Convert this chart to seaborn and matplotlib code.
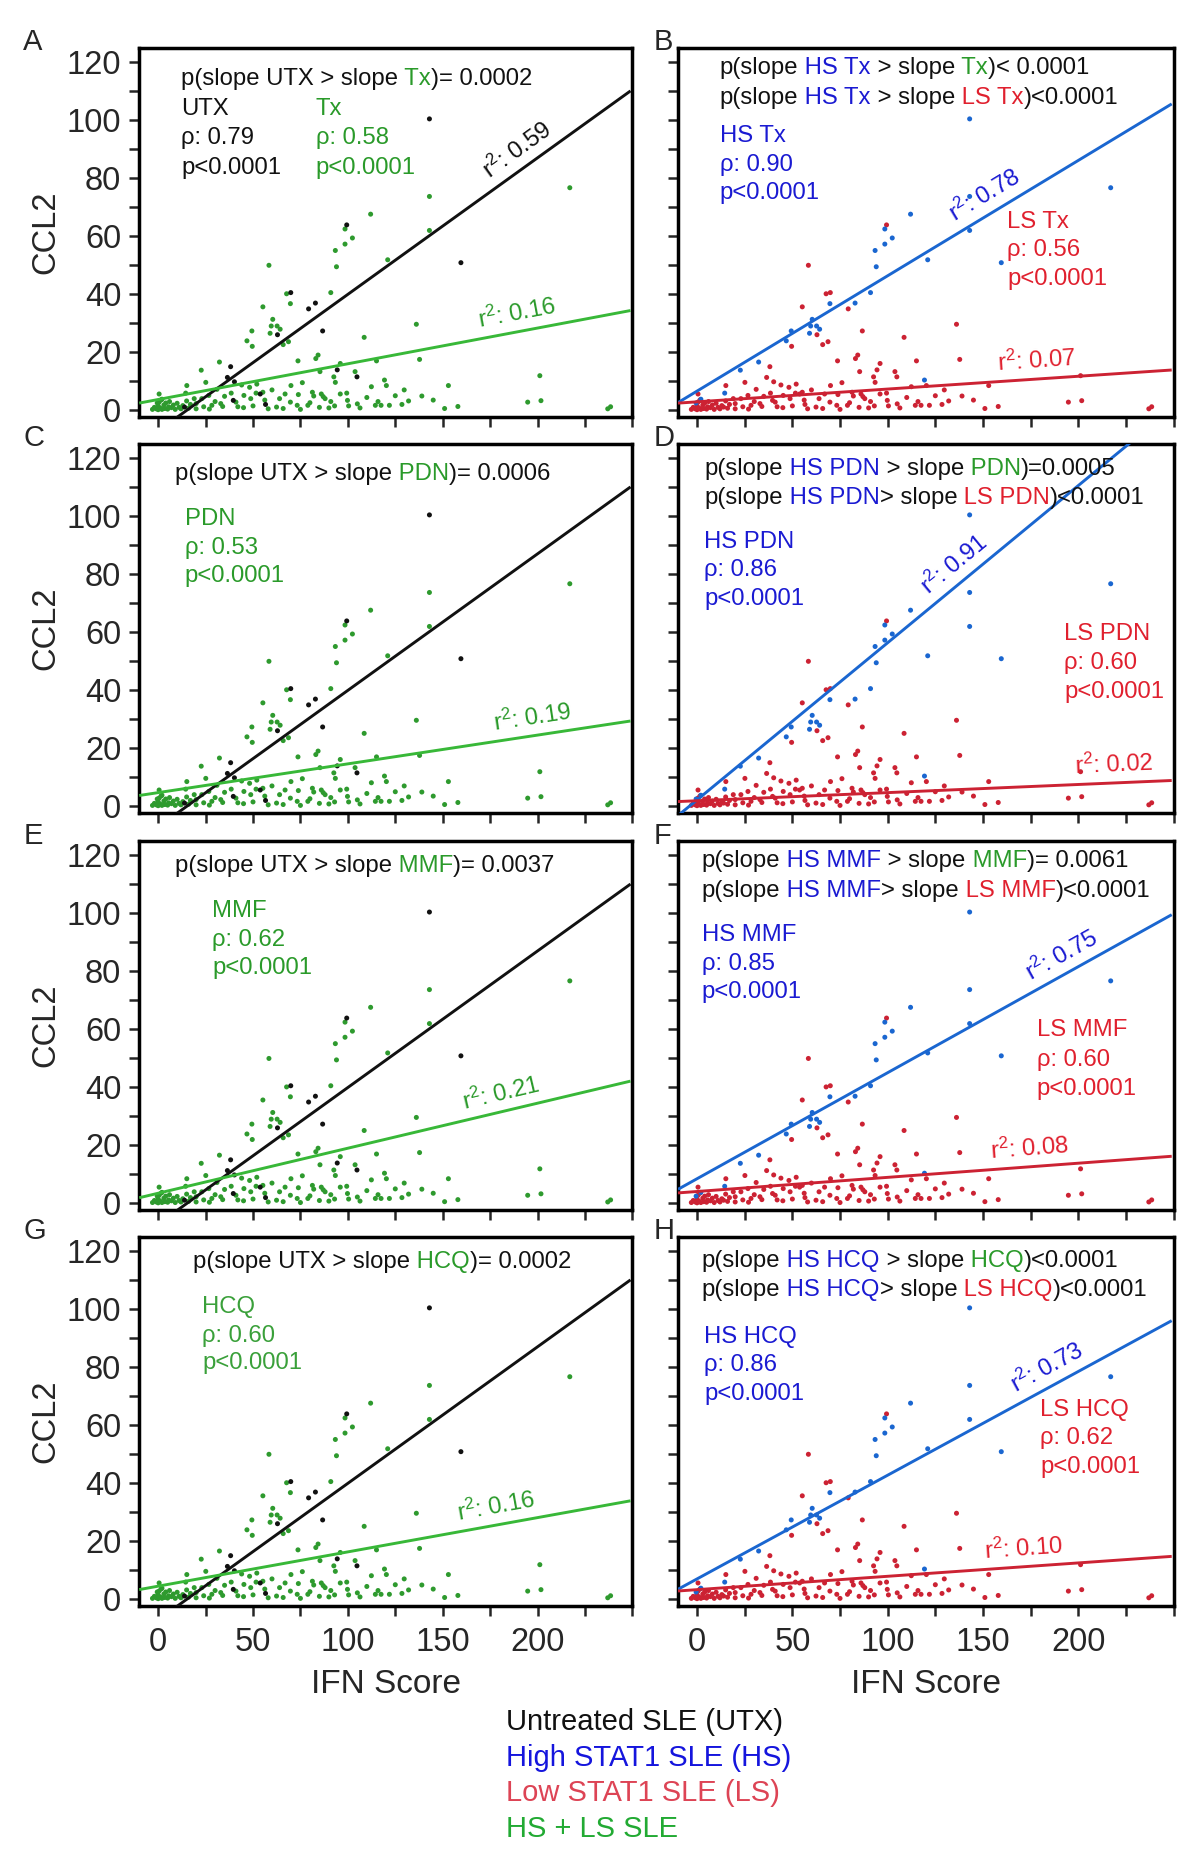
import numpy as np
import pandas as pd
import matplotlib
matplotlib.use("Agg")
import matplotlib.pyplot as plt
import seaborn as sns
from matplotlib.offsetbox import TextArea, HPacker, AnchoredOffsetbox

# ---- patients: IFN score vs CCL2 (same cohort shown in every panel) ----
ifn_score = [143, 217, 143, 143, 112, 99.4, 98.5, 102.4, 98.5, 93.4, 94.0, 121, 159.6, 58.4,
             91.0, 69.9, 67.7, 82.9, 79.3, 69.7, 55.2, 86.7, 62.9, 60.4, 59.6, 62.7, 64.3, 59.0,
             49.4, 46.8, 49.6, 65.9, 68.7, 108.6, 136.1, 137.8, 115.1, 73.7, 83.1, 84.3, 96.0,
             85.3, 32.3, 22.7, 25.1, 15.1, 92.6, 93.4, 103.8, 153.0, 201.2, 112.4, 119.3, 120.3,
             129.7, 139.0, 194.8, 201.8, 151.0, 237, 238.5, 38.2, 36.5, 40.2, 39.6, 94.4, 104.8,
             53.8, 56.6, 13.9, 14.5, 2, -0.5, 0.5, 19, 20, 23, 26.7, 28.3, 30, 33, 34, 38.5, 41,
             42, 45.2, 48.2, 48.8, 51.6, 55.2, 56.2, 62.4, 65.9, 66.9, 69.7, 73.3, 73.9, 78.9,
             81.3, 82.0, 86, 87, 88, 90, 93, 96, 99.4, 99.8, 100.4, 106.4, 114.5, 115.9, 117.5,
             121.9, 128.5, -3, -2, -1, 0, 0, 0.5, 1, 1.5, 2, 3, 3.5, 4, 5, 5.5, 6, 7, 8, 9, 10,
             11, 12, 13, 15, 16, 17, 31, 35, 44, 52, 60, 64, 70, 76, 80, 91, 110, 125, 132, 145,
             158, 20, 24, 27, 45, 50, 58, 75, 85, 105]
ccl2 = [100.3, 76.6, 73.6, 61.9, 67.5, 63.8, 62.4, 59.3, 57.2, 55.0, 49.4, 51.8, 50.8, 49.9,
        40.5, 40.5, 40.1, 36.9, 34.9, 36.7, 35.6, 27.3, 26.0, 31.3, 29.0, 29.0, 27.9, 26.5,
        27.3, 23.9, 22.0, 22.6, 23.6, 25.1, 29.6, 17.5, 17.0, 17.0, 17.8, 19.0, 16.1, 13.3,
        16.6, 13.8, 9.6, 8.5, 11.5, 9.6, 13.3, 8.5, 11.9, 8.1, 10.4, 8.5, 7.0, 4.9, 2.8, 3.3,
        0.6, 0.5, 1.2, 15.0, 11.3, 9.8, 3.4, 13.9, 11.5, 5.6, 2.0, 1.1, 5.9, 3.8, 2.5, 5.6,
        4.0, 2.3, 4.0, 5.1, 1.7, 3.0, 2.3, 1.3, 5.9, 2.8, 1.2, 5.1, 7.9, 4.0, 5.9, 6.2, 3.5,
        1.1, 0.6, 5.6, 2.8, 1.7, 5.4, 1.7, 6.2, 4.9, 5.6, 4.7, 4.0, 0.8, 1.5, 5.6, 5.9, 3.4,
        1.5, 0.8, 1.7, 3.0, 1.7, 1.7, 2.0, 0.3, 1.0, 0.5, 0.2, 1.5, 2.8, 0.8, 3.5, 0.3, 1.8,
        0.6, 2.5, 0.4, 1.2, 3.0, 0.9, 1.8, 0.3, 2.4, 1.0, 0.5, 1.6, 3.2, 0.7, 2.0, 7.2, 4.8,
        8.7, 9.0, 7.0, 4.0, 8.5, 9.5, 2.6, 3.0, 4.4, 5.0, 3.2, 3.5, 1.3, 0.5, 1.2, 0.4, 0.9,
        1.5, 0.5, 0.3, 1.0, 2.2]
# untreated patients (UTX); all others treated (Tx)
utx_index = [0, 5, 12, 15, 17, 18, 21, 22, 61, 62, 63, 64, 65, 66, 67, 68, 69]
# high STAT1 patients (HS); all others low STAT1 (LS)
hs_index = [0, 1, 2, 3, 4, 6, 7, 8, 9, 10, 11, 12, 14, 17, 19, 23, 24, 25, 26, 27, 28, 29,
            42, 43, 52, 70, 71, 72]

# ---- regression fits: (slope, intercept) ----
utx_fit = (0.470, -7.1)
tx_fits = [(0.123, 3.7), (0.099, 4.7), (0.155, 3.5), (0.118, 4.5)]
hs_fits = [(0.397, 6.6), (0.541, 2.2), (0.365, 8.5), (0.357, 7.0)]
ls_fits = [(0.044, 2.9), (0.028, 1.9), (0.0487, 4.1), (0.046, 3.3)]

tx_r2 = ["0.16", "0.19", "0.21", "0.16"]
hs_r2 = ["0.78", "0.91", "0.75", "0.73"]
ls_r2 = ["0.07", "0.02", "0.08", "0.10"]
tx_r2_at = [191, 199, 183, 180]
hs_r2_at = [156, 141, 196, 188]
ls_r2_at = [179, 219, 175, 172]

drugs = ["Tx", "PDN", "MMF", "HCQ"]
p_utx_vs_drug = ["= 0.0002", "= 0.0006", "= 0.0037", "= 0.0002"]
p_hs_vs_drug = ["< 0.0001", "=0.0005", "= 0.0061", "<0.0001"]
p_hs_vs_ls = ["<0.0001", "<0.0001", "<0.0001", "<0.0001"]
tx_rho = ["0.58", "0.53", "0.62", "0.60"]
hs_rho = ["0.90", "0.86", "0.85", "0.86"]
ls_rho = ["0.56", "0.60", "0.60", "0.62"]
panel_letters = ["A", "B", "C", "D", "E", "F", "G", "H"]

legend_labels = ["Untreated SLE (UTX)", "High STAT1 SLE (HS)", "Low STAT1 SLE (LS)", "HS + LS SLE"]

# ---- style ----
BLACK = "#111111"
GREEN_PT = "#2e9a2e"
GREEN_LN = "#38b838"
GREEN_TX = "#2a9a2a"
BLUE_PT = "#1a66d0"
BLUE_TX = "#1a1ad2"
RED_PT = "#cc2233"
RED_TX = "#e0202e"

sns.set_style("ticks")
plt.rcParams["font.family"] = ["Liberation Sans", "DejaVu Sans"]
plt.rcParams["mathtext.fontset"] = "custom"
plt.rcParams["mathtext.rm"] = "Liberation Sans"
plt.rcParams["mathtext.default"] = "regular"

n = len(ifn_score)
df = pd.DataFrame({"ifn_score": ifn_score, "ccl2": ccl2})
df["treatment"] = ["UTX" if i in utx_index else "Tx" for i in range(n)]
df["stat1"] = ["HS" if i in hs_index else "LS" for i in range(n)]

XLIM = (-10, 249)
YLIM = (-2.3, 124.7)
TXT = 17.2

fig = plt.figure(figsize=(12, 18.68), dpi=100)
lefts = [0.116, 0.565]
widths = [0.411, 0.413]
bottoms = [0.7768, 0.5648, 0.3522, 0.1403]
height = 0.1975


def colored_line(ax, parts, x, y, size=TXT):
    boxes = [TextArea(s, textprops=dict(color=c, size=size)) for s, c in parts]
    pack = HPacker(children=boxes, align="baseline", pad=0, sep=0)
    ab = AnchoredOffsetbox(loc="center left", child=pack, pad=0, borderpad=0, frameon=False,
                           bbox_to_anchor=(x, y), bbox_transform=ax.transAxes)
    ax.add_artist(ab)


def text_block(ax, lines, color, x, ys, size=TXT):
    for s, y in zip(lines, ys):
        ax.text(x, y, s, color=color, size=size, transform=ax.transAxes, ha="left", va="center")


def fit_line(ax, fit, color, lw=2.1):
    xs = np.array(XLIM)
    ax.plot(xs, fit[0] * xs + fit[1], color=color, lw=lw, zorder=3, solid_capstyle="butt")


def r2_label(ax, fit, xc, value, color):
    yc = fit[0] * xc + fit[1]
    ang = ax.transData.transform_angles(np.array([np.degrees(np.arctan(fit[0]))]),
                                        np.array([[xc, yc]]))[0]
    th = np.radians(ang)
    ax.annotate("r$^{2}$: " + value, xy=(xc, yc), xytext=(-4 * np.sin(th), 4 * np.cos(th)),
                textcoords="offset points", rotation=ang, rotation_mode="anchor",
                ha="center", va="bottom", color=color, size=TXT, zorder=4)


def style_axes(ax, row, col):
    ax.set_xlim(*XLIM)
    ax.set_ylim(*YLIM)
    ax.set_xticks(np.arange(0, 201, 50))
    ax.set_xticks(np.arange(0, 251, 25), minor=True)
    ax.set_yticks(np.arange(0, 121, 20))
    ax.set_yticks(np.arange(0, 121, 10), minor=True)
    ax.tick_params(which="both", direction="out", length=7, width=1.8, labelsize=23.5, pad=6)
    ax.tick_params(axis="x", which="both", pad=8)
    for sp in ax.spines.values():
        sp.set_visible(True)
        sp.set_linewidth(2.5)
        sp.set_color("black")
    ax.set_xlabel("")
    ax.set_ylabel("")
    if col == 0:
        ax.set_ylabel("CCL2", fontsize=23.5, labelpad=4)
    else:
        ax.tick_params(axis="y", labelleft=False)
    if row == 3:
        ax.set_xlabel("IFN Score", fontsize=24, labelpad=8)
    else:
        ax.tick_params(axis="x", labelbottom=False)


left_df = pd.concat([df[df.treatment == "Tx"], df[df.treatment == "UTX"]])
right_df = pd.concat([df[df.stat1 == "LS"], df[df.stat1 == "HS"]])

for row in range(4):
    drug = drugs[row]
    # ---------- left column: UTX vs treated ----------
    ax = fig.add_axes([lefts[0], bottoms[row], widths[0], height])
    sns.scatterplot(data=left_df, x="ifn_score", y="ccl2", hue="treatment",
                    palette={"UTX": BLACK, "Tx": GREEN_PT}, s=13, linewidth=0,
                    legend=False, ax=ax, zorder=2)
    style_axes(ax, row, 0)
    fit_line(ax, utx_fit, BLACK)
    fit_line(ax, tx_fits[row], GREEN_LN)
    r2_label(ax, tx_fits[row], tx_r2_at[row], tx_r2[row], GREEN_TX)
    if row == 0:
        colored_line(ax, [("p(slope UTX > slope", BLACK), (" Tx", GREEN_TX),
                          (")" + p_utx_vs_drug[row], BLACK)], 0.085, 0.916)
        text_block(ax, ["UTX", "\u03c1: 0.79", "p<0.0001"], BLACK, 0.085, [0.835, 0.755, 0.674])
        text_block(ax, ["Tx", "\u03c1: " + tx_rho[row], "p<0.0001"], GREEN_TX, 0.358,
                   [0.835, 0.755, 0.674])
        r2_label(ax, utx_fit, 195, "0.59", BLACK)
    else:
        hx = [0.073, 0.073, 0.109][row - 1]
        hy = [0.919, 0.932, 0.932][row - 1]
        gx = [0.092, 0.148, 0.128][row - 1]
        gy = [[0.797, 0.719, 0.642], [0.81, 0.732, 0.655], [0.81, 0.732, 0.658]][row - 1]
        colored_line(ax, [("p(slope UTX > slope", BLACK), (" " + drug, GREEN_TX),
                          (")" + p_utx_vs_drug[row], BLACK)], hx, hy)
        text_block(ax, [drug, "\u03c1: " + tx_rho[row], "p<0.0001"],
                   "#3aa03a" if row == 3 else GREEN_TX, gx, gy)
    ax.text(-0.235, 1.015, panel_letters[2 * row], transform=ax.transAxes, size=21,
            ha="left", va="center")

    # ---------- right column: high vs low STAT1 ----------
    ax = fig.add_axes([lefts[1], bottoms[row], widths[1], height])
    sns.scatterplot(data=right_df, x="ifn_score", y="ccl2", hue="stat1",
                    palette={"HS": BLUE_PT, "LS": RED_PT}, s=13, linewidth=0,
                    legend=False, ax=ax, zorder=2)
    style_axes(ax, row, 1)
    fit_line(ax, hs_fits[row], BLUE_PT)
    fit_line(ax, ls_fits[row], RED_PT)
    r2_label(ax, hs_fits[row], hs_r2_at[row], hs_r2[row], BLUE_TX)
    r2_label(ax, ls_fits[row], ls_r2_at[row], ls_r2[row], RED_TX)

    hx = [0.084, 0.053, 0.048, 0.048][row]
    hy = [[0.945, 0.865], [0.932, 0.855], [0.945, 0.865], [0.935, 0.855]][row]
    colored_line(ax, [("p(slope", BLACK), (" HS " + drug, BLUE_TX), (" > slope", BLACK),
                      (" " + drug, GREEN_TX), (")" + p_hs_vs_drug[row], BLACK)], hx, hy[0])
    colored_line(ax, [("p(slope", BLACK), (" HS " + drug, BLUE_TX),
                      ((" > slope" if row == 0 else "> slope"), BLACK),
                      (" LS " + drug, RED_TX), (")" + p_hs_vs_ls[row], BLACK)], hx, hy[1])
    hsx = [0.084, 0.053, 0.048, 0.053][row]
    hsy = [[0.761, 0.684, 0.606], [0.735, 0.658, 0.581], [0.745, 0.668, 0.59],
           [0.729, 0.652, 0.574]][row]
    text_block(ax, ["HS " + drug, "\u03c1: " + hs_rho[row], "p<0.0001"], BLUE_TX, hsx, hsy)
    lsx = [0.664, 0.779, 0.724, 0.731][row]
    lsy = [[0.529, 0.452, 0.374], [0.484, 0.406, 0.329], [0.487, 0.406, 0.329],
           [0.532, 0.455, 0.377]][row]
    text_block(ax, ["LS " + drug, "\u03c1: " + ls_rho[row], "p<0.0001"], RED_TX, lsx, lsy)
    ax.text(-0.05, 1.015, panel_letters[2 * row + 1], transform=ax.transAxes, size=21,
            ha="left", va="center")

legend_colors = [BLACK, "#1515dd", "#dd4455", "#22aa33"]
for i, (lab, c) in enumerate(zip(legend_labels, legend_colors)):
    fig.text(506 / 1200, 1 - (1722 + 35.7 * i) / 1868, lab, color=c, size=21,
             ha="left", va="center")

fig.savefig("out.png", dpi=100)
